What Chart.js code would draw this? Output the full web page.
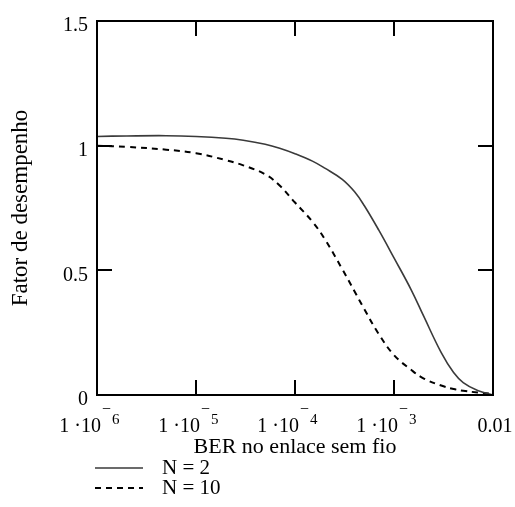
<!DOCTYPE html>
<html>
<head>
<meta charset="utf-8">
<script src="https://cdn.jsdelivr.net/npm/chart.js@4.4.1/dist/chart.umd.min.js"></script>
<style>
  html, body { margin: 0; padding: 0; background: #fff; }
  #wrap { width: 515px; height: 507px; }
</style>
</head>
<body>
<div id="wrap"><canvas id="fator"></canvas></div>
<script>
"use strict";

// BER values where both curves were read
let ber = [1e-6, 2e-6, 5e-6, 1e-5, 2e-5, 3e-5, 5e-5, 7e-5, 1e-4, 1.5e-4, 2e-4, 3e-4,
  4e-4, 5e-4, 7e-4, 1e-3, 1.5e-3, 2e-3, 3e-3, 4e-3, 5e-3, 7e-3, 1e-2];
let fatorN2 = [1.037, 1.039, 1.04, 1.037, 1.03, 1.022, 1.006, 0.99, 0.968, 0.938, 0.91, 0.865,
  0.815, 0.76, 0.662, 0.55, 0.42, 0.315, 0.17, 0.09, 0.05, 0.018, 0.0];
let fatorN10 = [1.0, 0.995, 0.984, 0.97, 0.942, 0.921, 0.885, 0.84, 0.772, 0.695, 0.625, 0.505,
  0.415, 0.345, 0.245, 0.16, 0.1, 0.066, 0.038, 0.024, 0.017, 0.01, 0.004];

let seriesNames = ['N = 2', 'N = 10'];
let xTickValues = [1e-6, 1e-5, 1e-4, 1e-3, 1e-2];
let xTickBase = ['1 \u00b710', '1 \u00b710', '1 \u00b710', '1 \u00b710', '0.01'];
let xTickExp = ['6', '5', '4', '3', ''];
let yTickValues = [0, 0.5, 1, 1.5];
let xTitle = 'BER no enlace sem fio';
let yTitle = 'Fator de desempenho';

const serif = "'Liberation Serif', 'DejaVu Serif', serif";

function points(ys) {
  let out = [];
  for (let i = 0; i < ber.length; i++) {
    out.push({ x: ber[i], y: ys[i] });
  }
  return out;
}

// frame, inward ticks on every side, x labels with exponents, titles, legend
const mathcadLook = {
  id: 'mathcadLook',
  afterDraw(chart) {
    const ctx = chart.ctx;
    const area = chart.chartArea;
    const xs = chart.scales.x;
    const ys = chart.scales.y;
    const tl = 15;

    ctx.save();
    ctx.strokeStyle = '#000';
    ctx.lineWidth = 2;
    ctx.strokeRect(area.left, area.top, area.right - area.left, area.bottom - area.top);

    ctx.beginPath();
    for (let v of xTickValues) {
      let px = Math.round(xs.getPixelForValue(v));
      ctx.moveTo(px, area.bottom); ctx.lineTo(px, area.bottom - tl);
      ctx.moveTo(px, area.top); ctx.lineTo(px, area.top + tl);
    }
    for (let v of yTickValues) {
      let py = Math.round(ys.getPixelForValue(v));
      ctx.moveTo(area.left, py); ctx.lineTo(area.left + tl, py);
      ctx.moveTo(area.right, py); ctx.lineTo(area.right - tl, py);
    }
    ctx.stroke();

    // x tick labels
    ctx.fillStyle = '#000';
    ctx.textBaseline = 'alphabetic';
    for (let i = 0; i < xTickValues.length; i++) {
      let px = xs.getPixelForValue(xTickValues[i]);
      if (xTickExp[i] === '') {
        ctx.font = '20px ' + serif;
        ctx.textAlign = 'center';
        ctx.fillText(xTickBase[i], px + 2, 432);
        continue;
      }
      ctx.font = '20px ' + serif;
      ctx.textAlign = 'right';
      ctx.fillText(xTickBase[i], px + 4, 432);
      ctx.textAlign = 'left';
      ctx.font = '16px ' + serif;
      ctx.fillText('\u2212', px + 5, 414);
      ctx.font = '15px ' + serif;
      ctx.fillText(xTickExp[i], px + 15, 424);
    }

    // axis titles
    ctx.font = '22px ' + serif;
    ctx.textAlign = 'center';
    ctx.fillText(xTitle, (area.left + area.right) / 2, 453);

    ctx.save();
    ctx.font = '23px ' + serif;
    ctx.translate(27, 208);
    ctx.rotate(-Math.PI / 2);
    ctx.fillText(yTitle, 0, 0);
    ctx.restore();

    // legend
    let rows = [468, 488];
    let styles = chart.data.datasets;
    for (let i = 0; i < seriesNames.length; i++) {
      ctx.beginPath();
      ctx.strokeStyle = styles[i].borderColor;
      ctx.lineWidth = styles[i].borderWidth;
      ctx.setLineDash(styles[i].borderDash || []);
      ctx.moveTo(95, rows[i]);
      ctx.lineTo(143, rows[i]);
      ctx.stroke();
      ctx.setLineDash([]);
      ctx.fillStyle = '#000';
      ctx.textAlign = 'left';
      ctx.font = '21px ' + serif;
      ctx.fillText(seriesNames[i], 162, rows[i] + 6);
    }
    ctx.restore();
  }
};

const config = {
  type: 'scatter',
  data: {
    datasets: [
      {
        label: seriesNames[0],
        data: points(fatorN2),
        showLine: true,
        borderColor: '#3a3a3a',
        borderWidth: 1.6,
        pointRadius: 0,
        tension: 0.4
      },
      {
        label: seriesNames[1],
        data: points(fatorN10),
        showLine: true,
        borderColor: '#000',
        borderWidth: 2,
        borderDash: [6, 5],
        pointRadius: 0,
        tension: 0.4
      }
    ]
  },
  options: {
    responsive: true,
    maintainAspectRatio: false,
    animation: false,
    layout: { padding: { left: 0, top: 14, right: 22, bottom: 0 } },
    plugins: {
      legend: { display: false },
      tooltip: { enabled: false }
    },
    scales: {
      x: {
        type: 'logarithmic',
        min: 1e-6,
        max: 1e-2,
        grid: { display: false, drawTicks: false },
        border: { display: false },
        ticks: { display: false },
        afterFit(scale) { scale.height = 112; }
      },
      y: {
        min: 0,
        max: 1.5,
        grid: { display: false, drawTicks: false },
        border: { display: false },
        afterBuildTicks(scale) {
          scale.ticks = yTickValues.map(v => ({ value: v }));
        },
        ticks: {
          color: '#000',
          padding: 9,
          labelOffset: 5,
          font: { family: serif, size: 20 },
          callback: v => String(v)
        },
        afterFit(scale) { scale.width = 97; }
      }
    }
  },
  plugins: [mathcadLook]
};

new Chart(document.getElementById('fator'), config);
</script>
</body>
</html>
